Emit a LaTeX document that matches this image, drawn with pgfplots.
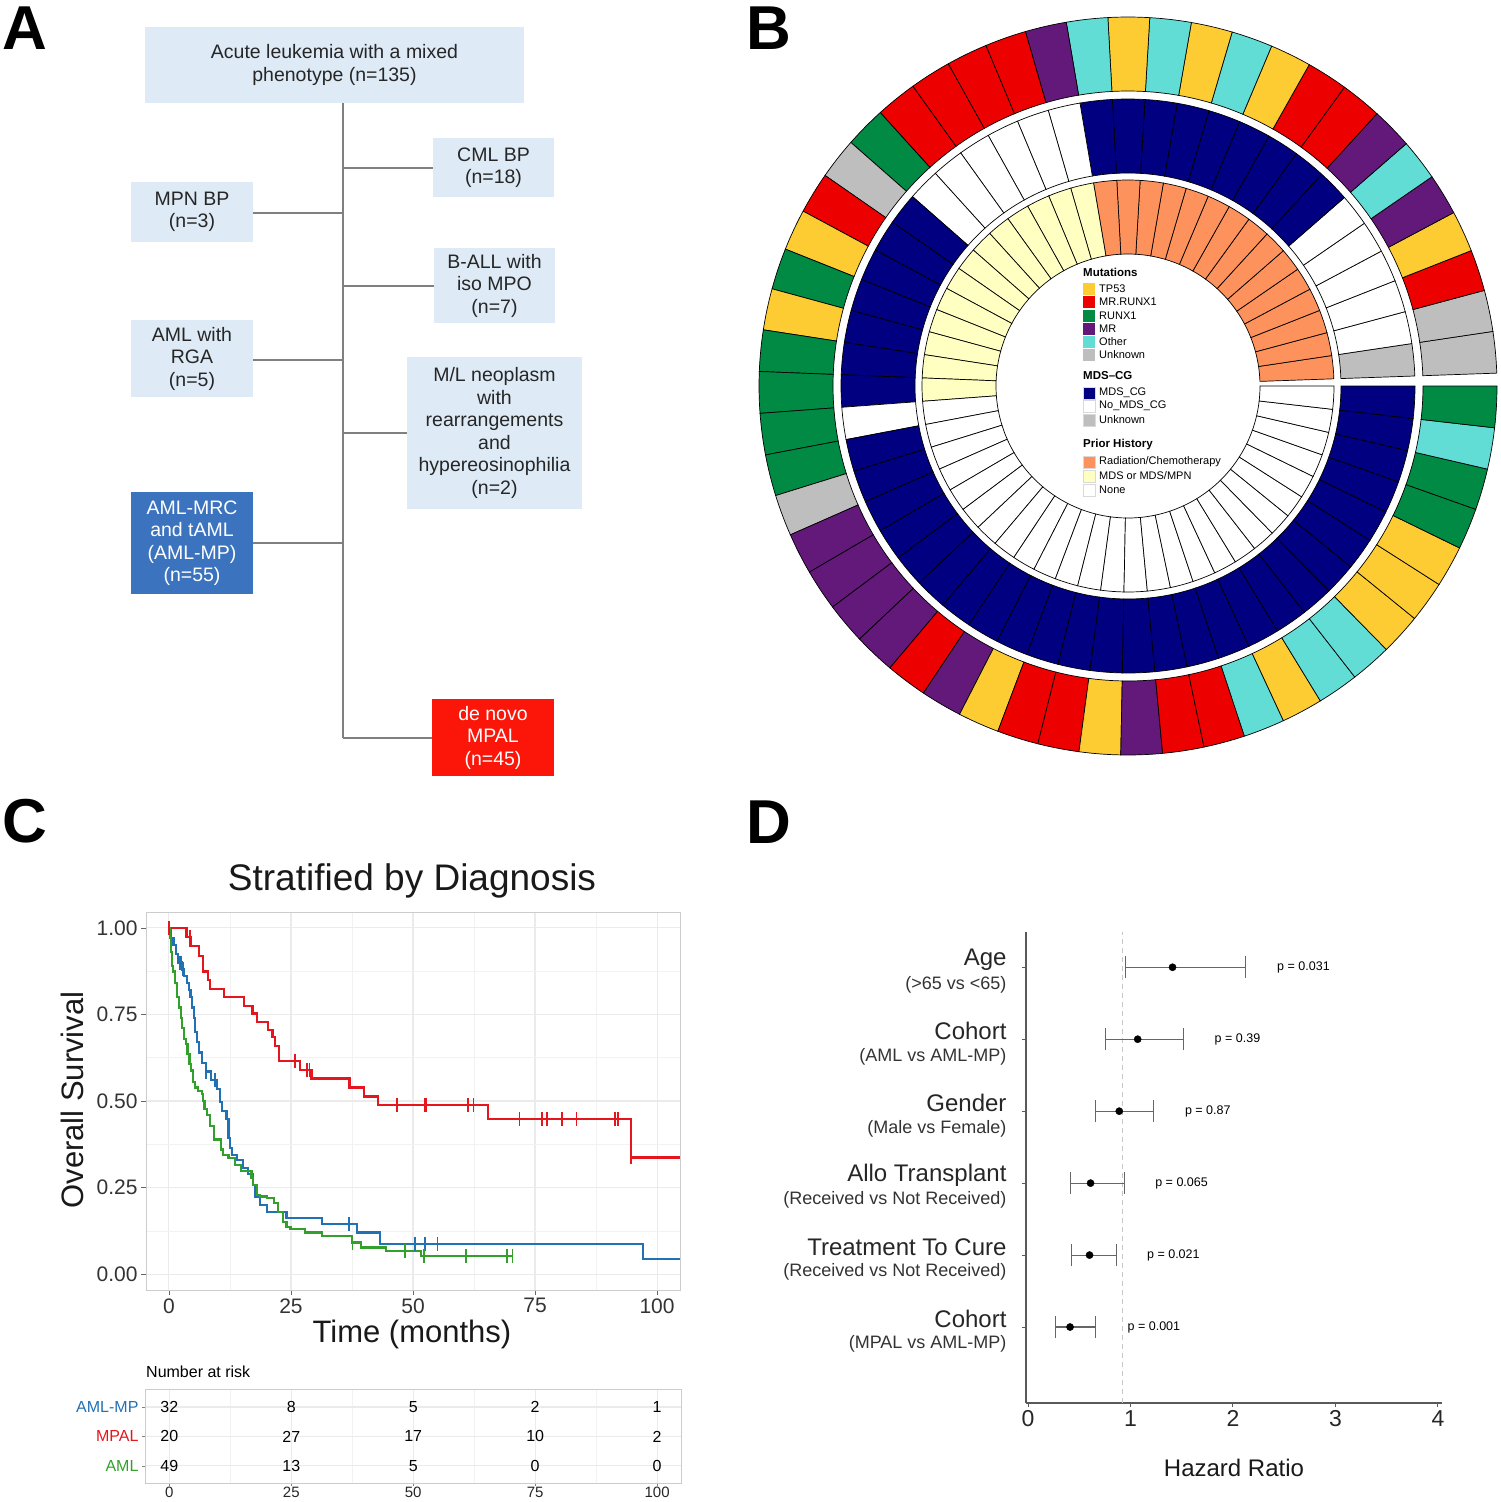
\documentclass[border=0pt]{standalone}
\usepackage{pgfplots}
\pgfplotsset{compat=1.18}
\usepackage{fontspec}
\setmainfont{Liberation Sans}

\definecolor{lblue}{RGB}{222,235,247}
\definecolor{dblue}{RGB}{59,115,190}
\definecolor{bred}{RGB}{252,22,10}
\definecolor{cY}{RGB}{253,204,51}
\definecolor{cR}{RGB}{236,0,0}
\definecolor{cG}{RGB}{0,138,68}
\definecolor{cP}{RGB}{98,25,122}
\definecolor{cC}{RGB}{98,221,214}
\definecolor{cU}{RGB}{190,190,190}
\definecolor{cB}{RGB}{0,0,128}
\definecolor{cW}{RGB}{255,255,255}
\definecolor{cO}{RGB}{253,146,93}
\definecolor{cL}{RGB}{255,255,194}
\definecolor{kmblue}{RGB}{33,113,181}
\definecolor{kmred}{RGB}{230,22,30}
\definecolor{kmgreen}{RGB}{52,160,44}

% one ring of the circular plot: inner radius, outer radius, categories
\newcommand\ring[3]{%
  \foreach \col [count=\k] in {#3}{%
    \pgfmathsetmacro\angA{2+(\k-1)*6.509091}%
    \pgfmathsetmacro\angB{2+\k*6.509091}%
    \filldraw[fill=c\col, draw=black, line width=0.7pt]
      (\angA:#1) arc[start angle=\angA, end angle=\angB, radius=#1]
      -- (\angB:#2) arc[start angle=\angB, end angle=\angA, radius=#2] -- cycle;
  }}

\begin{document}
\begin{tikzpicture}
\useasboundingbox (0pt,0pt) rectangle (1500pt,-1502pt);

% ---------------- panel letters
\begin{scope}[x=1pt,y=-1pt]
  \tikzset{plab/.style={font=\fontsize{62}{62}\selectfont\bfseries, inner sep=0pt}}
  \node[plab] at (25,28) {A};
  \node[plab] at (769,28) {B};
  \node[plab] at (25,821) {C};
  \node[plab] at (769,822) {D};
\end{scope}

% ---------------- panel A: flowchart
\begin{scope}[x=1pt,y=-1pt,
  box/.style={fill=lblue, align=center, inner sep=0pt, text=black!85,
              font=\fontsize{19.5}{22.5}\selectfont}]
  \draw[gray, line width=2pt] (343,103) -- (343,738);
  \draw[gray, line width=2pt] (343,168) -- (433,168);
  \draw[gray, line width=2pt] (253,213) -- (343,213);
  \draw[gray, line width=2pt] (343,286) -- (434,286);
  \draw[gray, line width=2pt] (253,360) -- (343,360);
  \draw[gray, line width=2pt] (343,433) -- (407,433);
  \draw[gray, line width=2pt] (253,543) -- (343,543);
  \draw[gray, line width=2pt] (343,738) -- (432,738);
  \node[box, minimum width=379pt, minimum height=76pt] at (334.5,65) {Acute leukemia with a mixed\\phenotype (n=135)};
  \node[box, minimum width=121pt, minimum height=59pt] at (493.5,167.5) {CML BP\\(n=18)};
  \node[box, minimum width=122pt, minimum height=60pt] at (192,212) {MPN BP\\(n=3)};
  \node[box, minimum width=121pt, minimum height=75pt] at (494.5,285.5) {B-ALL with\\iso MPO\\(n=7)};
  \node[box, minimum width=122pt, minimum height=77pt] at (192,358.5) {AML with\\RGA\\(n=5)};
  \node[box, minimum width=175pt, minimum height=152pt] at (494.5,433) {M/L neoplasm\\with\\rearrangements\\and\\hypereosinophilia\\(n=2)};
  \node[box, fill=dblue, text=white, minimum width=122pt, minimum height=102pt] at (192,543) {AML-MRC\\and tAML\\(AML-MP)\\(n=55)};
  \node[box, fill=bred, text=white, minimum width=122pt, minimum height=77pt] at (493,737.5) {de novo\\MPAL\\(n=45)};
\end{scope}

% ---------------- panel B: circular plot
\begin{scope}[shift={(1128pt,-386pt)}]
  % Mutations (outer)
  \ring{295pt}{369pt}{U,U,R,Y,P,C,P,R,R,Y,C,Y,C,Y,C,P,R,R,R,R,G,U,R,Y,G,Y,G,G,G,G,U,P,P,P,P,R,P,Y,R,R,Y,P,R,R,C,Y,C,C,Y,Y,Y,G,G,C,G}
  % MDS-CG (middle)
  \ring{213pt}{287pt}{U,W,W,W,W,W,B,B,B,B,B,B,B,B,B,W,W,W,W,W,W,B,B,B,B,B,B,B,W,B,B,B,B,B,B,B,B,B,B,B,B,B,B,B,B,B,B,B,B,B,B,B,B,B,B}
  % Prior history (inner)
  \ring{132pt}{206pt}{O,O,O,O,O,O,O,O,O,O,O,O,O,O,O,L,L,L,L,L,L,L,L,L,L,L,L,L,W,W,W,W,W,W,W,W,W,W,W,W,W,W,W,W,W,W,W,W,W,W,W,W,W,W,W}
\end{scope}

\begin{scope}[x=1pt,y=-1pt,
  lh/.style={anchor=west, inner sep=0pt, font=\fontsize{11.5}{12}\selectfont\bfseries},
  lt/.style={anchor=west, inner sep=0pt, font=\fontsize{11}{12}\selectfont}]
  \node[lh] at (1083,272) {Mutations};
  \foreach \y/\cc/\t in {289/cY/TP53, 302/cR/MR.RUNX1, 316/cG/RUNX1, 329/cP/MR, 342/cC/Other, 355/cU/Unknown}{
    \fill[\cc] (1083,\y-6) rectangle (1095,\y+6);
    \node[lt] at (1099,\y) {\t};}
  \node[lh] at (1083,376) {MDS–CG};
  \foreach \y/\cc/\t in {393/cB/MDS\_CG, 406/cW/No\_MDS\_CG, 420/cU/Unknown}{
    \filldraw[fill=\cc, draw=black!15, line width=0.5pt] (1083,\y-6) rectangle (1095,\y+6);
    \node[lt] at (1099,\y) {\t};}
  \node[lh] at (1083,445) {Prior History};
  \foreach \y/\cc/\t in {462/cO/{Radiation/Chemotherapy}, 476/cL/{MDS or MDS/MPN}, 490/cW/None}{
    \filldraw[fill=\cc, draw=black!15, line width=0.5pt] (1083,\y-6) rectangle (1095,\y+6);
    \node[lt] at (1099,\y) {\t};}
\end{scope}

% ---------------- panel C: Kaplan-Meier
\begin{scope}[x=1pt,y=-1pt]
  \node[font=\fontsize{37}{37}\selectfont, text=black!90] at (412,881) {Stratified by Diagnosis};
  \node[font=\fontsize{31}{31}\selectfont, rotate=90, text=black!90] at (72,1100) {Overall Survival};
  \node[font=\fontsize{31}{31}\selectfont, text=black!90] at (412,1334) {Time (months)};
  \node[font=\fontsize{16}{16}\selectfont, anchor=west, inner sep=0pt] at (146,1372) {Number at risk};
  \node[font=\fontsize{24}{24}\selectfont, text=black!90] at (1234,1468) {Hazard Ratio};
\end{scope}

\begin{axis}[
  at={(146pt,-1290pt)}, anchor=south west, scale only axis,
  width=534pt, height=378pt,
  xmin=-4.7, xmax=104.7, ymin=-0.046, ymax=1.046,
  xtick={0,25,50,75,100}, ytick={0,0.25,0.5,0.75,1},
  minor xtick={12.5,37.5,62.5,87.5}, minor ytick={0.125,0.375,0.625,0.875},
  grid=both,
  major grid style={draw=black!8, line width=1.1pt},
  minor grid style={draw=black!5, line width=0.6pt},
  axis line style={draw=black!20, line width=1pt},
  tick pos=left, tick align=outside, major tick length=5pt, minor tick length=0pt,
  tick style={black!60, line width=0.8pt},
  yticklabel style={/pgf/number format/.cd, fixed, fixed zerofill, precision=2},
  ticklabel style={font=\fontsize{21}{21}\selectfont, text=black!80},
  /pgf/number format/assume math mode=true,
]
\addplot[kmblue, line width=2.2pt, const plot] coordinates {
  (0,1) (0.43,0.97) (0.94,0.95) (1.5,0.925) (1.9,0.90) (2.75,0.88) (3.1,0.86)
  (3.7,0.84) (4.1,0.82) (4.4,0.80) (4.7,0.77) (5.1,0.74) (5.4,0.70) (5.8,0.67)
  (6.2,0.64) (6.7,0.61) (7.6,0.585) (8.6,0.56) (9.8,0.535) (10.4,0.496)
  (10.9,0.471) (11.8,0.447) (12.2,0.394) (12.5,0.365) (12.9,0.345) (14.0,0.33)
  (15.1,0.306) (16.2,0.29) (17.2,0.258) (17.6,0.224) (18.7,0.20) (20.1,0.18)
  (24.1,0.163) (31.4,0.144) (38.6,0.12) (43.3,0.087) (97.1,0.043) (104.7,0.043)};
\addplot[kmblue, only marks, mark=|, mark size=7pt, line width=1.8pt] coordinates {
  (2.2,0.90) (2.5,0.90) (2.8,0.88) (7.6,0.585) (9.5,0.56) (36.9,0.144)
  (50.4,0.087) (52.5,0.087) (55.0,0.087)};
\addplot[kmred, line width=2.2pt, const plot] coordinates {
  (0,1) (3.6,0.974) (4.4,0.947) (6.2,0.92) (6.9,0.874) (8.0,0.85) (8.4,0.823)
  (11.3,0.80) (15.3,0.775) (17.1,0.753) (18.1,0.728) (20.3,0.706) (21.2,0.685)
  (21.8,0.66) (22.5,0.615) (26.8,0.59) (29.2,0.565) (37.0,0.539) (39.9,0.513)
  (42.8,0.488) (65.3,0.449) (94.6,0.337) (104.7,0.337)};
\addplot[kmred, only marks, mark=|, mark size=7pt, line width=1.8pt] coordinates {
  (0,1) (4.3,0.974) (25.9,0.615) (28.3,0.59) (28.8,0.59) (46.7,0.488)
  (52.4,0.488) (52.6,0.488) (61.2,0.488) (62.4,0.488) (71.8,0.449) (76.4,0.449)
  (77.4,0.449) (80.6,0.449) (83.5,0.449) (91.4,0.449) (92.0,0.449) (94.7,0.337)};
\addplot[kmgreen, line width=2.2pt, const plot] coordinates {
  (0,1) (0.2,0.97) (0.43,0.93) (0.65,0.89) (0.8,0.874) (1.3,0.84) (1.67,0.80)
  (2.0,0.77) (2.4,0.74) (2.75,0.71) (3.1,0.68) (3.5,0.665) (3.8,0.636)
  (4.2,0.607) (4.6,0.588) (4.9,0.554) (5.3,0.539) (6.0,0.53) (6.7,0.52)
  (7.0,0.50) (7.3,0.476) (7.8,0.46) (8.4,0.428) (9.3,0.389) (10.7,0.36)
  (11.1,0.345) (12.2,0.336) (13.6,0.316) (14.7,0.297) (16.9,0.277) (17.2,0.258)
  (18.0,0.229) (18.7,0.224) (20.1,0.219) (21.6,0.205) (22.3,0.18) (23.4,0.151)
  (24.1,0.137) (24.9,0.13) (27.8,0.12) (31.4,0.11) (37.5,0.091) (39.3,0.077)
  (44.4,0.066) (51.7,0.052) (70.4,0.052)};
\addplot[kmgreen, only marks, mark=|, mark size=7pt, line width=1.8pt] coordinates {
  (37.6,0.091) (48.4,0.066) (52.2,0.052) (60.9,0.052) (69.3,0.052) (70.4,0.052)};
\end{axis}

% number at risk table
\begin{axis}[
  at={(145pt,-1483pt)}, anchor=south west, scale only axis,
  width=536pt, height=94pt,
  xmin=-5, xmax=104.9, ymin=0.42, ymax=3.61,
  xtick={0,25,50,75,100}, minor xtick={12.5,37.5,62.5,87.5}, ytick={1,2,3},
  yticklabels={\textcolor{kmgreen}{AML},\textcolor{kmred}{MPAL},\textcolor{kmblue}{AML-MP}},
  xmajorgrids, xminorgrids, ymajorgrids,
  major grid style={draw=black!8, line width=1.1pt},
  minor grid style={draw=black!5, line width=0.6pt},
  axis line style={draw=black!20, line width=1pt},
  tick pos=left, tick align=outside, major tick length=3pt, minor tick length=0pt,
  tick style={black!50, line width=0.8pt},
  ticklabel style={font=\fontsize{16}{16}\selectfont, text=black!85},
  xticklabel style={font=\fontsize{15}{15}\selectfont, yshift=2.5pt},
  /pgf/number format/assume math mode=true,
]
\addplot[only marks, mark=text, text mark={}, nodes near coords, point meta=explicit symbolic,
  every node near coord/.append style={anchor=center, text=black, font=\fontsize{16}{16}\selectfont}]
  coordinates {
  (0,3)[32] (25,3)[8] (50,3)[5] (75,3)[2] (100,3)[1]
  (0,2)[20] (25,2)[27] (50,2)[17] (75,2)[10] (100,2)[2]
  (0,1)[49] (25,1)[13] (50,1)[5] (75,1)[0] (100,1)[0]};
\end{axis}

% ---------------- panel D: forest plot
\begin{axis}[
  at={(1026pt,-1403pt)}, anchor=south west, scale only axis,
  width=416pt, height=471pt,
  xmin=-0.02, xmax=4.04, ymin=-0.056, ymax=6.49,
  axis lines*=left, axis line style={-, black!65, line width=1.2pt},
  xtick={0,1,2,3,4}, ytick={1,2,3,4,5,6},
  yticklabels={Cohort, Treatment To Cure, Allo Transplant, Gender, Cohort, Age},
  extra y ticks={0.65,1.65,2.65,3.65,4.65,5.65},
  extra y tick labels={(MPAL vs AML-MP), (Received vs Not Received), (Received vs Not Received),
    (Male vs Female), (AML vs AML-MP), (>65 vs <65)},
  extra y tick style={major tick length=0pt,
    yticklabel style={font=\fontsize{18}{18}\selectfont, text=black!80, xshift=-4pt}},
  tick align=outside, major tick length=4pt, tick style={black!65, line width=1pt},
  xticklabel style={font=\fontsize{23}{23}\selectfont, text=black!85},
  yticklabel style={font=\fontsize{24}{24}\selectfont, text=black!85, xshift=-12pt, yshift=8pt},
  /pgf/number format/assume math mode=true,
  clip=false,
]
\addplot[black!22, line width=1.2pt, dash pattern=on 5pt off 4pt] coordinates {(0.92,-0.056) (0.92,6.49)};
\addplot[black, only marks, mark=*, mark size=3.6pt,
  error bars/.cd, x dir=both, x explicit, error mark=|,
  error bar style={black!60, line width=1.1pt},
  error mark options={black!60, mark size=11pt, line width=1.1pt}]
  coordinates {
  (1.41,6) += (0.71,0) -= (0.46,0)
  (1.07,5) += (0.45,0) -= (0.31,0)
  (0.89,4) += (0.33,0) -= (0.23,0)
  (0.61,3) += (0.33,0) -= (0.20,0)
  (0.60,2) += (0.26,0) -= (0.18,0)
  (0.41,1) += (0.25,0) -= (0.14,0)};
\addplot[only marks, mark=text, text mark={}, nodes near coords, point meta=explicit symbolic,
  every node near coord/.append style={anchor=west, inner sep=0pt, text=black, font=\fontsize{12.5}{12.5}\selectfont}]
  coordinates {
  (2.43,6)[p = 0.031] (1.82,5)[p = 0.39] (1.53,4)[p = 0.87]
  (1.24,3)[p = 0.065] (1.16,2)[p = 0.021] (0.97,1)[p = 0.001]};
\end{axis}
\end{tikzpicture}
\end{document}
